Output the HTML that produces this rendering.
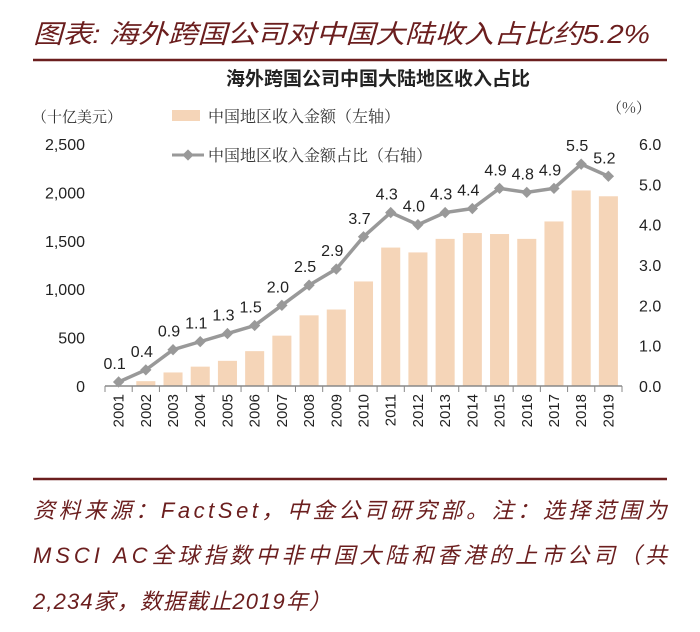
<!DOCTYPE html>
<html><head><meta charset="utf-8">
<style>
html,body{margin:0;padding:0;background:#fff;}
svg{display:block;font-family:"Liberation Sans","Noto Sans CJK SC",sans-serif;}
</style></head>
<body>
<svg id="chart" width="700" height="632" viewBox="0 0 700 632">
  <text x="33" y="43" font-size="26" font-style="italic" fill="#6b1e1e" textLength="617" lengthAdjust="spacingAndGlyphs">图表: 海外跨国公司对中国大陆收入占比约5.2%</text>
  <line x1="33" y1="60" x2="667" y2="60" stroke="#6b1e1e" stroke-width="2.5"/>
  <text x="378" y="85" font-size="19" font-weight="bold" fill="#222" text-anchor="middle" font-family="'Noto Sans CJK SC',sans-serif">海外跨国公司中国大陆地区收入占比</text>
  <text x="32" y="122" font-size="15" fill="#333" font-family="'Noto Serif CJK SC',serif">（十亿美元）</text>
  <text x="607" y="113" font-size="15" fill="#333" font-family="'Noto Serif CJK SC',serif">（%）</text>
  <rect x="172" y="110" width="28" height="11" fill="#f5d5b8"/>
  <text x="208" y="122" font-size="16" fill="#333" font-family="'Noto Serif CJK SC',serif">中国地区收入金额（左轴）</text>
  <line x1="172" y1="155" x2="204" y2="155" stroke="#999" stroke-width="3"/>
  <rect x="184" y="151" width="8" height="8" fill="#999" transform="rotate(45 188 155)"/>
  <text x="208" y="161" font-size="16" fill="#333" font-family="'Noto Serif CJK SC',serif">中国地区收入金额占比（右轴）</text>
  <g id="plot"></g>
  <line x1="33" y1="479" x2="667" y2="479" stroke="#6b1e1e" stroke-width="2.5"/>
  <g font-size="22" font-style="italic" fill="#6b1e1e">
    <text x="33" y="518" textLength="634" lengthAdjust="spacing">资料来源：FactSet，中金公司研究部。注：选择范围为</text>
    <text x="33" y="563" textLength="634" lengthAdjust="spacing">MSCI AC全球指数中非中国大陆和香港的上市公司（共</text>
    <text x="33" y="609" textLength="298" lengthAdjust="spacing">2,234家，数据截止2019年）</text>
  </g>
</svg>
<script>
const years = ['2001','2002','2003','2004','2005','2006','2007','2008','2009','2010','2011','2012','2013','2014','2015','2016','2017','2018','2019'];
const revenue = [5,50,140,200,260,360,520,730,790,1080,1430,1380,1520,1580,1570,1520,1700,2020,1960];
const share = [0.1,0.4,0.9,1.1,1.3,1.5,2.0,2.5,2.9,3.7,4.3,4.0,4.3,4.4,4.9,4.8,4.9,5.5,5.2];
const leftTicks = [0,500,1000,1500,2000,2500];
const leftTickLabels = ['0','500','1,000','1,500','2,000','2,500'];
const rightTicks = [0,1,2,3,4,5,6];
const rightTickLabels = ['0.0','1.0','2.0','3.0','4.0','5.0','6.0'];

const NS='http://www.w3.org/2000/svg';
const g=document.getElementById('plot');
const X0=105,X1=622,Y0=386,Y1=144;
const bw=(X1-X0)/years.length;
const xc=i=>X0+bw*(i+0.5);
const yL=v=>Y0-(v/2500)*(Y0-Y1);
const yR=v=>Y0-(v/6)*(Y0-Y1);
function mk(tag,attrs){const e=document.createElementNS(NS,tag);for(const k in attrs)e.setAttribute(k,attrs[k]);g.appendChild(e);return e;}

revenue.forEach((v,i)=>{
  const r=mk('rect',{x:xc(i)-bw*0.35,y:yL(v),width:bw*0.7,height:Y0-yL(v),fill:'#f5d5b8'});
  
  
});
const ax=mk('line',{x1:X0,y1:Y0,x2:X1,y2:Y0,stroke:'#888','stroke-width':1.5});


for(let i=0;i<=years.length;i++){
  const t=mk('line',{x1:X0+bw*i,y1:Y0,x2:X0+bw*i,y2:Y0+6,stroke:'#888','stroke-width':1});
  
  
}
years.forEach((y,i)=>{
  const t=mk('text',{x:0,y:0,'font-size':15,fill:'#222','text-anchor':'end',transform:`translate(${xc(i)+5},${Y0+8}) rotate(-90)`});
  t.textContent=y;
  
  
});
leftTicks.forEach((v,i)=>{
  const t=mk('text',{x:85,y:yL(v)+6,'font-size':16,fill:'#222','text-anchor':'end'});
  t.textContent=leftTickLabels[i];
  
  
});
rightTicks.forEach((v,i)=>{
  const t=mk('text',{x:639,y:yR(v)+6,'font-size':16,fill:'#222'});
  t.textContent=rightTickLabels[i];
  
  
});
const pl=mk('polyline',{points:share.map((v,i)=>xc(i)+','+yR(v)).join(' '),fill:'none',stroke:'#999','stroke-width':3.5});


share.forEach((v,i)=>{
  const m=mk('rect',{x:xc(i)-4,y:yR(v)-4,width:8,height:8,fill:'#999',transform:`rotate(45 ${xc(i)} ${yR(v)})`});
  
  
  const t=mk('text',{x:xc(i)-4,y:yR(v)-13,'font-size':16,fill:'#222','text-anchor':'middle'});
  t.textContent=v.toFixed(1);
  
  
});
</script>
</body></html>
